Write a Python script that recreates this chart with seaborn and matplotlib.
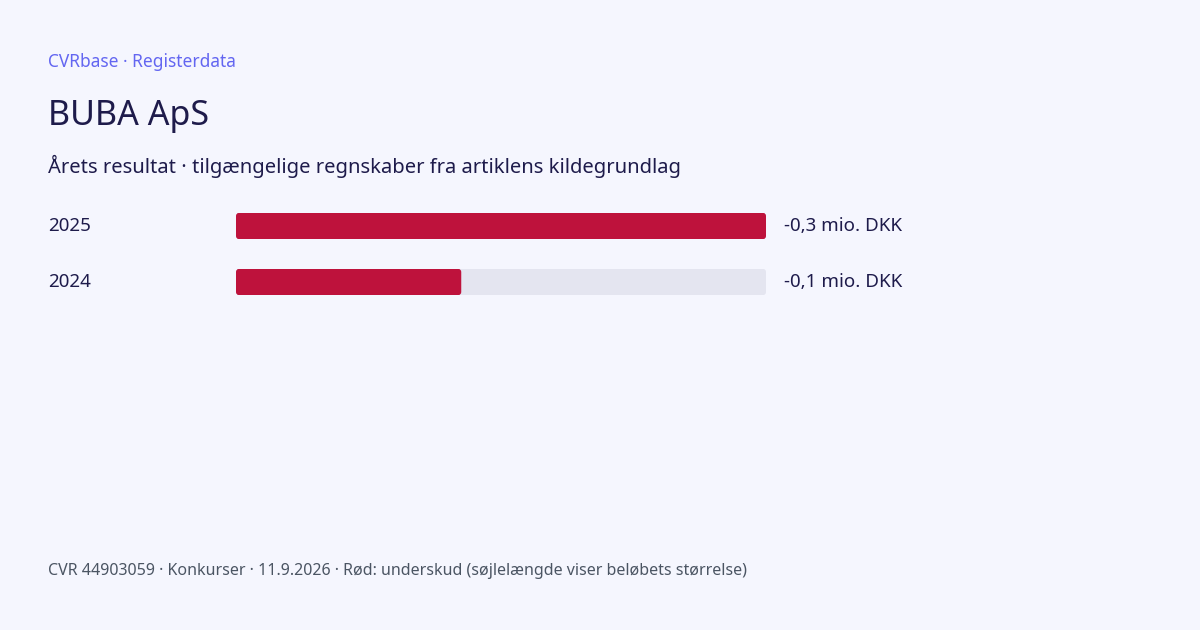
import matplotlib
matplotlib.use("Agg")
import matplotlib.pyplot as plt
import seaborn as sns
import pandas as pd
from matplotlib.patches import FancyBboxPatch

years = ["2025", "2024"]
values = [-0.30, -0.1275]
labels = ["-0,3 mio. DKK", "-0,1 mio. DKK"]

BG = "#f5f6fe"
sns.set_theme(style="white")
plt.rcParams['font.family'] = ['Noto Sans', 'DejaVu Sans']

W, H = 1200, 630
fig = plt.figure(figsize=(12, 6.3), dpi=100, facecolor=BG)

def px(x, y):
    return x / W, 1 - y / H

ax = fig.add_axes([236 / W, 1 - 310 / H, 530 / W, 112 / H])
ax.set_facecolor("none")
mag = [abs(v) for v in values]
mx = max(mag)
df = pd.DataFrame({"year": years, "mag": mag, "track": [mx] * len(years)})
sns.barplot(data=df, y="year", x="track", color="#e4e5f0", width=26 / 56, ax=ax, saturation=1)
sns.barplot(data=df, y="year", x="mag", color="#be123c", width=26 / 56, ax=ax, saturation=1)
for p in list(ax.patches):
    x0, y0, w, h = p.get_x(), p.get_y(), p.get_width(), p.get_height()
    fc = p.get_facecolor()
    p.remove()
    ax.add_patch(FancyBboxPatch((x0, y0), w, h, boxstyle="round,pad=0,rounding_size=0.0015",
                                mutation_aspect=h / 0.0015 * 0.12, fc=fc, ec="none", lw=0))
ax.set_xlim(0, mx)
ax.set_ylim(1.5, -0.5)
ax.axis("off")

for i, (yr, lb) in enumerate(zip(years, labels)):
    yy = 226 + 56 * i
    fig.text(*px(48, yy), yr, fontsize=13.5, color="#1e1b4b", va="center")
    fig.text(*px(784, yy), lb, fontsize=13.5, color="#1e1b4b", va="center")

fig.text(*px(48, 62), "CVRbase · Registerdata", fontsize=12.5, color="#6366f1", va="center")
fig.text(*px(48, 116), "BUBA ApS", fontsize=24.5, color="#1e1b4b", va="center")
fig.text(*px(48, 166), "Årets resultat · tilgængelige regnskaber fra artiklens kildegrundlag",
         fontsize=14.5, color="#1e1b4b", va="center")
fig.text(*px(48, 571), "CVR 44903059 · Konkurser · 11.9.2026 · Rød: underskud (søjlelængde viser beløbets størrelse)",
         fontsize=11.5, color="#4b5563", va="center")

fig.savefig("out.png", dpi=100, facecolor=BG)
